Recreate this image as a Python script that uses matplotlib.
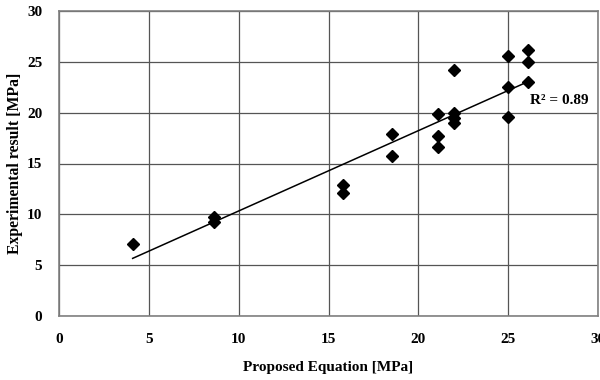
import numpy as np
import matplotlib.pyplot as plt

plt.rcParams['font.family'] = ['Liberation Serif', 'DejaVu Serif']

# values
proposed = [4.1, 8.6, 8.6, 15.8, 15.8, 18.55, 18.55, 21.1, 21.1, 21.1,
            22.0, 22.0, 22.0, 22.0, 25.0, 25.0, 25.0, 26.1, 26.1, 26.1]
experimental = [7.08, 9.77, 9.28, 12.9, 12.1, 17.9, 15.73, 19.9, 17.7, 16.6,
                24.2, 20.0, 19.5, 18.95, 25.57, 22.55, 19.54, 26.15, 25.0, 23.04]
# trend line as drawn in the reference
trend_slope = 0.79
trend_intercept = 2.43
xticks = [0, 5, 10, 15, 20, 25, 30]
yticks = [0, 5, 10, 15, 20, 25, 30]
r2_text = 'R² = 0.89'

x = np.array(proposed)
y = np.array(experimental)
xf = np.array([x.min(), x.max()])

fig = plt.figure(figsize=(6, 3.8), dpi=100)
ax = fig.add_axes([59/600, 1-316/380, (598-59)/600, (316-11)/380])

ax.plot(xf, trend_slope*xf + trend_intercept, color='black', lw=1.1, zorder=3)
ax.plot(x, y, 'D', color='black', ms=5.8, zorder=4)
ax.text(26.2, 21.2, r2_text, fontsize=11, fontweight='bold', va='center', ha='left')

ax.set_xlim(0, 30)
ax.set_ylim(0, 30)
ax.set_xticks(xticks)
ax.set_yticks(yticks)
ax.grid(True, color='#555555', lw=0.9)
ax.set_axisbelow(True)
for s in ax.spines.values():
    s.set_color('#808080')
    s.set_linewidth(1.2)
ax.tick_params(length=0, labelsize=11)
ax.tick_params(axis='x', pad=12)
ax.tick_params(axis='y', pad=12)
for lab in ax.get_xticklabels() + ax.get_yticklabels():
    lab.set_fontweight('bold')

ax.set_xlabel('Proposed Equation [MPa]', fontsize=11, fontweight='bold', labelpad=11)
ax.set_ylabel('Experimental result [MPa]', fontsize=11.3, fontweight='bold', labelpad=3)

fig.savefig('out.png', dpi=100)
